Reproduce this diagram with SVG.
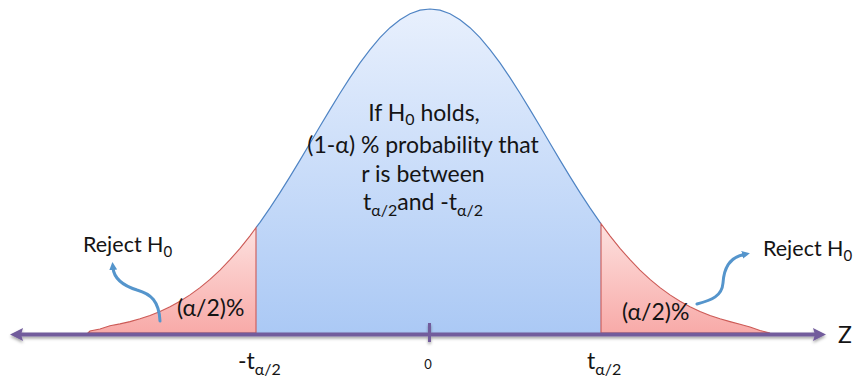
<svg xmlns="http://www.w3.org/2000/svg" width="854" height="381" viewBox="0 0 854 381">
<defs>
<linearGradient id="gBlue" x1="0" y1="9" x2="0" y2="333" gradientUnits="userSpaceOnUse">
<stop offset="0" stop-color="#e8f0fd"/>
<stop offset="1" stop-color="#abc9f5"/>
</linearGradient>
<linearGradient id="gRed" x1="0" y1="0" x2="0" y2="1">
<stop offset="0" stop-color="#fde1df"/>
<stop offset="1" stop-color="#f8aaa8"/>
</linearGradient>
<filter id="shadow" x="-5%" y="-100%" width="110%" height="300%">
<feDropShadow dx="0" dy="2" stdDeviation="1.5" flood-color="#000" flood-opacity="0.35"/>
</filter>
<marker id="blueHead" markerWidth="8" markerHeight="8" refX="2" refY="4" orient="auto" markerUnits="userSpaceOnUse">
<path d="M0,0 L8,4 L0,8 Z" fill="#5595cc"/>
</marker>
</defs>
<style>
.lbl{font-family:Lato,"Noto Sans",sans-serif;font-size:23px;fill:#141414}
.sub{font-size:16px}
.rej{font-size:21.5px}
.rej .sub{font-size:15px}
.tailFill{fill:url(#gRed);stroke:#cc5a56;stroke-width:1.1}
.curve{fill:none;stroke:#4f84c4;stroke-width:1.2}
.callout{fill:none;stroke:#5595cc;stroke-width:3;stroke-linecap:round}
.axis{stroke:#725c9c;stroke-width:4;fill:none}
</style>

<g id="center-region">
<path d="M256,333 L256,227.7 L260,222.3 L270,207.9 L280,192.6 L290,176.6 L300,160.1 L310,143.3 L320,126.3 L330,109.6 L340,93.2 L350,77.6 L360,62.9 L370,49.6 L380,37.7 L390,27.7 L400,19.7 L410,13.8 L420,10.2 L430,9 L440,10.2 L450,13.8 L460,19.7 L470,27.7 L480,37.7 L490,49.6 L500,62.9 L510,77.6 L520,93.2 L530,109.6 L540,126.3 L550,143.3 L560,160.1 L570,176.6 L580,192.6 L590,207.9 L600,222.3 L601,223.7 L601,333 Z" fill="url(#gBlue)"/>
<path class="curve" d="M256,227.7 L260,222.3 L270,207.9 L280,192.6 L290,176.6 L300,160.1 L310,143.3 L320,126.3 L330,109.6 L340,93.2 L350,77.6 L360,62.9 L370,49.6 L380,37.7 L390,27.7 L400,19.7 L410,13.8 L420,10.2 L430,9 L440,10.2 L450,13.8 L460,19.7 L470,27.7 L480,37.7 L490,49.6 L500,62.9 L510,77.6 L520,93.2 L530,109.6 L540,126.3 L550,143.3 L560,160.1 L570,176.6 L580,192.6 L590,207.9 L600,222.3 L601,223.7"/>
<text class="lbl" text-anchor="middle" x="424" y="121">If H<tspan class="sub" dy="4">0</tspan><tspan dy="-4"> holds,</tspan></text>
<text class="lbl" text-anchor="middle" x="423" y="153">(1-α) % probability that</text>
<text class="lbl" text-anchor="middle" x="423" y="182">r is between</text>
<text class="lbl" text-anchor="middle" x="423" y="210">t<tspan class="sub" dy="6">α/2</tspan><tspan dy="-6">and -t</tspan><tspan class="sub" dy="6">α/2</tspan></text>
</g>

<g id="left-tail">
<path class="tailFill" d="M88,333 L90,331 L100,329 L110,325.8 L120,323.9 L130,321.6 L140,318.8 L150,315.4 L160,311.4 L170,306.7 L180,301.2 L190,294.9 L200,287.6 L210,279.4 L220,270.1 L230,259.7 L240,248.3 L250,235.8 L256,227.7 L256,333 Z"/>
<text class="lbl" x="177" y="316">(α/2)%</text>
</g>

<g id="right-tail">
<path class="tailFill" d="M601,333 L601,223.7 L610,235.8 L620,248.3 L630,259.7 L640,270.1 L650,279.4 L660,287.6 L670,294.9 L680,301.2 L690,306.7 L700,311.4 L710,315.4 L720,318.8 L730,321.6 L740,324.2 L750,327 L760,330.5 L770,333 Z"/>
<text class="lbl" x="622" y="320">(α/2)%</text>
</g>

<g id="reject-left">
<text class="lbl rej" x="83" y="252">Reject H<tspan class="sub" dy="5">0</tspan></text>
</g>

<g id="reject-right">
<text class="lbl rej" x="763" y="256">Reject H<tspan class="sub" dy="5">0</tspan></text>
</g>

<g id="axis-labels">
<text class="lbl" x="838" y="343">Z</text>
<text class="lbl" x="238" y="369">-t<tspan class="sub" dy="6">α/2</tspan></text>
<text class="lbl" x="587" y="369">t<tspan class="sub" dy="6">α/2</tspan></text>
<text class="lbl" x="428" y="369" text-anchor="middle" style="font-size:13px">0</text>
</g>

<g id="connectors">
<g filter="url(#shadow)">
<line class="axis" x1="20" y1="334.5" x2="816" y2="334.5"/>
<polygon points="10,334.5 23,328 21,334.5 23,341" fill="#725c9c"/>
<polygon points="826,334.5 813,328 815,334.5 813,341" fill="#725c9c"/>
<line x1="429.5" y1="323" x2="429.5" y2="342" stroke="#725c9c" stroke-width="3"/>
</g>
<path class="callout" d="M160,321 C159,301 151,294 137,290 C121,285 114,278 113,268" marker-end="url(#blueHead)"/>
<path class="callout" d="M697,304 C712,300 722,296 723,283 C724,266 731,257 744,254.5" marker-end="url(#blueHead)"/>
</g>
</svg>
